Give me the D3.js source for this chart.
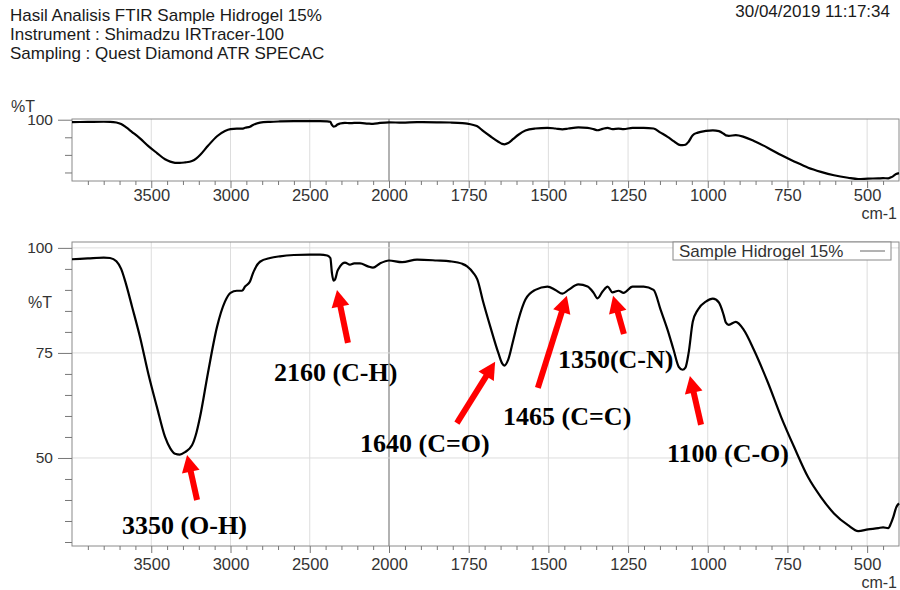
<!DOCTYPE html>
<html>
<head>
<meta charset="utf-8">
<script src="https://cdn.jsdelivr.net/npm/d3@7"></script>
<style>
  body { margin: 0; background: #fff; }
  svg { display: block; font-family: "Liberation Sans", Arial, sans-serif; }
  .tick text { fill: #333; }
  .annot { font-family: "Liberation Serif", "Times New Roman", serif; font-weight: bold; font-size: 26px; fill: #000; }
</style>
</head>
<body>
<svg id="chart" width="900" height="590"></svg>
<script>
// header texts
var headerLines = ["Hasil Analisis FTIR Sample Hidrogel 15%", "Instrument : Shimadzu IRTracer-100", "Sampling : Quest Diamond ATR SPECAC"];
var dateText = "30/04/2019 11:17:34";
var seriesName = "Sample Hidrogel 15%";

// spectrum: wavenumber (cm-1), transmittance (%T)
var wavenumbers = [4000, 3900, 3800, 3760, 3720, 3690, 3660, 3621, 3571, 3520, 3464, 3413, 3380, 3350, 3320, 3287, 3243, 3215, 3192, 3142,
  3085, 3035, 3000, 2960, 2927, 2908, 2877, 2858, 2814, 2750, 2688, 2600, 2500, 2435, 2390, 2370, 2360, 2350, 2340, 2325,
  2309, 2278, 2246, 2220, 2183, 2133, 2101, 2057, 2000, 1959, 1912, 1850, 1808, 1770, 1755, 1735, 1723, 1704, 1682, 1657,
  1645, 1638, 1626, 1610, 1594, 1572, 1541, 1503, 1478, 1456, 1437, 1406, 1377, 1358, 1346, 1330, 1314, 1299, 1280, 1264,
  1236, 1201, 1170, 1148, 1126, 1107, 1091, 1079, 1070, 1060, 1047, 1031, 1006, 984, 965, 950, 943, 934, 912, 887,
  855, 811, 770, 729, 685, 645, 604, 560, 528, 497, 465, 450, 434, 425, 418, 409, 400];
var transmittance = [97.3, 97.5, 97.7, 97.6, 96.8, 95, 91.5, 86, 78.8, 70.3, 62.1, 55, 52.3, 51, 50.8, 51.4, 53, 56, 59.8, 70.3,
  81.2, 87.2, 89.3, 89.8, 89.8, 90.8, 92, 94, 96.7, 97.6, 98, 98.3, 98.4, 98.4, 98.2, 97.6, 94, 92.2, 92.5, 94.5,
  95.6, 96.5, 96, 96.3, 96.3, 95.6, 95.3, 96.3, 97, 96.6, 97.2, 97, 96.8, 96.2, 95.6, 94, 92.5, 87, 81.2, 75,
  72.5, 72, 73.4, 78.1, 82.9, 87.7, 90, 90.8, 90, 89.1, 90, 91.3, 90.8, 89.3, 88, 89.6, 90.8, 89.4, 89.8, 89.3,
  90.8, 90.8, 90, 85.3, 80.5, 75.7, 71.7, 71, 71.5, 75, 82.4, 85.3, 87.2, 87.9, 87, 84, 82.2, 81.7, 82.4, 80.5,
  75.7, 67.9, 59.8, 52.6, 45.4, 40.7, 36.8, 34, 32.6, 33, 33.3, 33.5, 33.3, 34.5, 35.9, 38.2, 39.2];

// axis ticks
var xMajorTicks = [3500, 3000, 2500, 2000, 1750, 1500, 1250, 1000, 750, 500];
var xMinorTicks = [3900, 3800, 3700, 3600, 3400, 3300, 3200, 3100, 2900, 2800, 2700, 2600, 2400, 2300, 2200, 2100,
  1950, 1900, 1850, 1800, 1700, 1650, 1600, 1550, 1450, 1400, 1350, 1300, 1200, 1150, 1100, 1050,
  950, 900, 850, 800, 700, 650, 600, 550, 450];
var yMajorTicks = [50, 75, 100];
var yMinorTicks = [30, 35, 40, 45, 55, 60, 65, 70, 80, 85, 90, 95];
var overviewMajorTicks = [100];
var overviewMinorTicks = [40, 60, 80];

// peak annotations: label position and arrow tail/tip, all in data units
var annotLabels = ["3350 (O-H)", "2160 (C-H)", "1640 (C=O)", "1465 (C=C)", "1350(C-N)", "1100 (C-O)"];
var annotLabelPos = [[3685, 31.9], [2726, 68.3], [2183, 51.4], [1642, 57.9], [1470, 71.4], [1128, 49]];
var arrowTails = [[3211, 40], [2259, 77.4], [1787, 58.3], [1533, 66.7], [1263, 79.5], [1021, 57.9]];
var arrowTips = [[3274, 50.7], [2328, 90], [1667, 72.9], [1442, 88.6], [1297, 88.6], [1056, 69.5]];

var spectrum = wavenumbers.map((w, i) => [w, transmittance[i]]);

var svg = d3.select("#chart");
var left = 72, right = 899;

// the instrument expands the scale below 2000 cm-1
var x = d3.scaleLinear()
    .domain([4000, 2000, 400])
    .range([left, 389, right]);

// header
svg.selectAll(".header")
    .data(headerLines)
  .enter().append("text")
    .attr("class", "header")
    .attr("x", 10)
    .attr("y", (d, i) => 21 + i * 19)
    .attr("font-size", "17px")
    .attr("fill", "#1a1a1a")
    .text(d => d);

svg.append("text")
    .attr("x", 890)
    .attr("y", 17)
    .attr("text-anchor", "end")
    .attr("font-size", "17px")
    .attr("fill", "#1a1a1a")
    .text(dateText);

function drawPanel(top, bottom, yDomain, majors, minors, labelPad, hGrid) {
  var y = d3.scaleLinear()
      .domain(yDomain)
      .range([bottom, top]);

  var g = svg.append("g");

  // grid
  g.selectAll(".vgrid")
      .data(xMajorTicks)
    .enter().append("line")
      .attr("x1", d => x(d))
      .attr("x2", d => x(d))
      .attr("y1", top)
      .attr("y2", bottom)
      .style("stroke", d => d === 2000 ? "#999" : "#ddd")
      .style("stroke-width", d => d === 2000 ? 1.5 : 1);

  g.selectAll(".hgrid")
      .data(hGrid)
    .enter().append("line")
      .attr("x1", left)
      .attr("x2", right)
      .attr("y1", d => y(d))
      .attr("y2", d => y(d))
      .style("stroke", "#ddd");

  // frame
  g.append("rect")
      .attr("x", left)
      .attr("y", top)
      .attr("width", right - left)
      .attr("height", bottom - top)
      .style("fill", "none")
      .style("stroke", "#8a8a8a");

  // spectrum
  var line = d3.line()
      .x(d => x(d[0]))
      .y(d => y(d[1]))
      .curve(d3.curveMonotoneX);

  g.append("path")
      .datum(spectrum)
      .attr("d", line)
      .style("fill", "none")
      .style("stroke", "#000")
      .style("stroke-width", 2.2)
      .style("stroke-linejoin", "round");

  // x axis
  g.append("g")
      .attr("transform", "translate(0," + bottom + ")")
      .call(d3.axisBottom(x).tickValues(xMinorTicks).tickSize(4).tickSizeOuter(0).tickFormat(""))
      .call(a => a.select(".domain").remove())
      .selectAll("line").style("stroke", "#777");

  var xa = g.append("g")
      .attr("transform", "translate(0," + bottom + ")")
      .call(d3.axisBottom(x).tickValues(xMajorTicks).tickSize(7).tickSizeOuter(0)
        .tickPadding(labelPad).tickFormat(d3.format("d")));
  xa.select(".domain").remove();
  xa.selectAll("line").style("stroke", "#777");
  xa.selectAll("text").attr("font-size", "16.5px").attr("font-family", "Liberation Sans, Arial, sans-serif");

  // y axis
  g.append("g")
      .attr("transform", "translate(" + left + ",0)")
      .call(d3.axisLeft(y).tickValues(minors).tickSize(7).tickSizeOuter(0).tickFormat(""))
      .call(a => a.select(".domain").remove())
      .selectAll("line").style("stroke", "#777");

  var ya = g.append("g")
      .attr("transform", "translate(" + left + ",0)")
      .call(d3.axisLeft(y).tickValues(majors).tickSize(14).tickSizeOuter(0).tickPadding(5));
  ya.select(".domain").remove();
  ya.selectAll("line").style("stroke", "#777");
  ya.selectAll("text").attr("font-size", "15.5px").attr("font-family", "Liberation Sans, Arial, sans-serif");

  // unit label
  g.append("text")
      .attr("x", 897)
      .attr("y", bottom + 38 + (labelPad > 3 ? 4 : 0))
      .attr("text-anchor", "end")
      .attr("font-size", "16px")
      .attr("fill", "#333")
      .text("cm-1");

  return y;
}

// overview panel
drawPanel(119, 181, [30.3, 100.8], overviewMajorTicks, overviewMinorTicks, 1, []);
svg.append("text")
    .attr("x", 11)
    .attr("y", 112)
    .attr("font-size", "16px")
    .attr("fill", "#333")
    .text("%T");

// main panel
var yMain = drawPanel(242, 546, [29.05, 101.4], yMajorTicks, yMinorTicks, 5, yMajorTicks);
svg.append("text")
    .attr("x", 28)
    .attr("y", 308)
    .attr("font-size", "16px")
    .attr("fill", "#333")
    .text("%T");

// legend
var legend = svg.append("g");
legend.append("rect")
    .attr("x", 673)
    .attr("y", 242)
    .attr("width", 218)
    .attr("height", 18)
    .style("fill", "#fff")
    .style("stroke", "#888");
legend.append("text")
    .attr("x", 679)
    .attr("y", 257)
    .attr("font-size", "17px")
    .attr("fill", "#333")
    .text(seriesName);
legend.append("line")
    .attr("x1", 860)
    .attr("x2", 885)
    .attr("y1", 251)
    .attr("y2", 251)
    .style("stroke", "#666");

// red arrows
var arrows = svg.append("g");
arrowTails.forEach(function (t, i) {
  var x0 = x(t[0]), y0 = yMain(t[1]);
  var x1 = x(arrowTips[i][0]), y1 = yMain(arrowTips[i][1]);
  var ang = Math.atan2(y1 - y0, x1 - x0);
  var headLen = 17, headW = 9;
  var bx = x1 - headLen * Math.cos(ang), by = y1 - headLen * Math.sin(ang);
  arrows.append("line")
      .attr("x1", x0)
      .attr("y1", y0)
      .attr("x2", bx + Math.cos(ang))
      .attr("y2", by + Math.sin(ang))
      .style("stroke", "#f00")
      .style("stroke-width", 6);
  var px = -Math.sin(ang), py = Math.cos(ang);
  arrows.append("path")
      .attr("d", "M" + x1 + "," + y1 +
                 "L" + (bx + px * headW) + "," + (by + py * headW) +
                 "L" + (bx - px * headW) + "," + (by - py * headW) + "Z")
      .style("fill", "#f00");
});

// peak labels
svg.selectAll(".annot")
    .data(annotLabels)
  .enter().append("text")
    .attr("class", "annot")
    .attr("x", (d, i) => x(annotLabelPos[i][0]))
    .attr("y", (d, i) => yMain(annotLabelPos[i][1]))
    .text(d => d);
</script>
</body>
</html>
